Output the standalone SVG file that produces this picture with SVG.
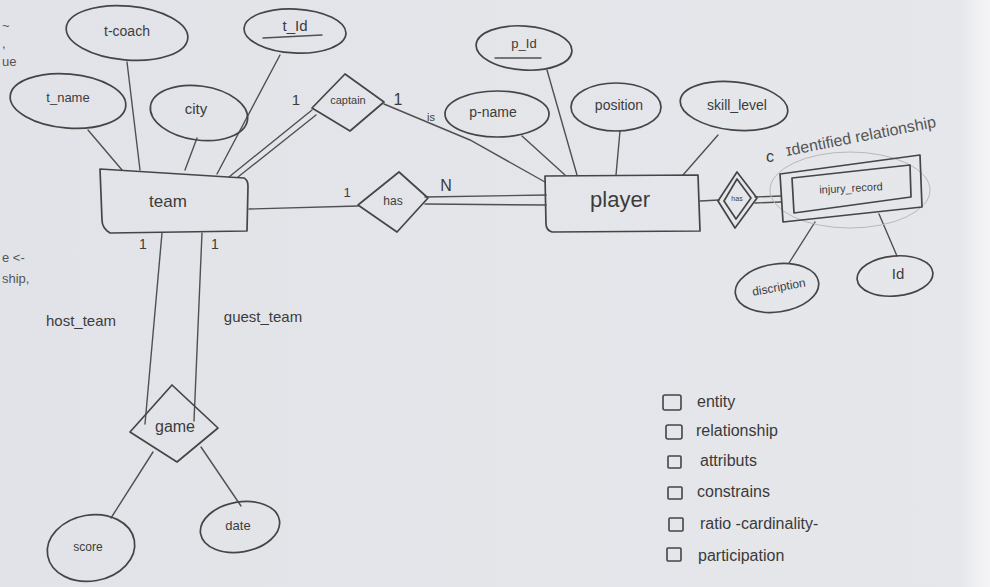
<svg xmlns="http://www.w3.org/2000/svg" width="990" height="587" viewBox="0 0 990 587">
<defs>
<linearGradient id="paper" x1="0" y1="0" x2="1" y2="0">
<stop offset="0" stop-color="#e2e3e8"/>
<stop offset="0.97" stop-color="#e6e7eb"/>
<stop offset="0.985" stop-color="#eeeff2"/>
<stop offset="1" stop-color="#f4f4f6"/>
</linearGradient>
</defs>
<style>
.s{fill:none;stroke:#454545;stroke-width:1.7;stroke-linejoin:round;stroke-linecap:round}
.l{fill:none;stroke:#505050;stroke-width:1.4;stroke-linecap:round}
.t{font-family:"Liberation Sans",Arial,sans-serif;fill:#3c3c3c;text-anchor:middle;dominant-baseline:middle}
.f{font-family:"Liberation Sans",Arial,sans-serif;fill:#555;font-size:13px}
.lg{font-family:"Liberation Sans",Arial,sans-serif;fill:#3a3a3a;font-size:16px}
.lb{fill:none;stroke:#444;stroke-width:1.6}
</style>
<rect x="0" y="0" width="990" height="587" fill="url(#paper)"/>

<!-- edge fragments -->
<g id="fragments">
<text class="f" x="2" y="30">~</text>
<text class="f" x="2" y="48">,</text>
<text class="f" x="2" y="66">ue</text>
<text class="f" x="2" y="262">e &lt;-</text>
<text class="f" x="2" y="283">ship,</text>
</g>

<g id="connectors">
<!-- team attributes -->
<line class="l" x1="88" y1="130" x2="122" y2="170"/>
<line class="l" x1="127" y1="62" x2="140" y2="170"/>
<line class="l" x1="197" y1="138" x2="185" y2="170"/>
<line class="l" x1="280" y1="55" x2="217" y2="174"/>
<!-- team - captain double -->
<line class="l" x1="229" y1="177" x2="312" y2="110"/>
<line class="l" x1="238" y1="177" x2="316" y2="115"/>
<!-- captain - player -->
<polyline class="l" points="384,104 470,140 545,182"/>
<!-- team - has -->
<line class="l" x1="249" y1="209" x2="358" y2="206"/>
<!-- has - player double -->
<line class="l" x1="425" y1="197" x2="546" y2="195"/>
<line class="l" x1="425" y1="204" x2="546" y2="205"/>
<!-- player attributes -->
<line class="l" x1="547" y1="70" x2="577" y2="175"/>
<line class="l" x1="522" y1="136" x2="565" y2="175"/>
<line class="l" x1="620" y1="131" x2="616" y2="175"/>
<line class="l" x1="718" y1="135" x2="683" y2="175"/>
<!-- player - weak has -->
<line class="l" x1="700" y1="201" x2="719" y2="200"/>
<line class="l" x1="755" y1="197" x2="781" y2="196"/>
<line class="l" x1="755" y1="203" x2="781" y2="202"/>
<!-- injury attributes -->
<line class="l" x1="815" y1="222" x2="789" y2="263"/>
<line class="l" x1="879" y1="214" x2="897" y2="256"/>
<!-- team - game -->
<line class="l" x1="162" y1="233" x2="145" y2="424"/>
<line class="l" x1="202" y1="233" x2="194" y2="421"/>
<!-- game attributes -->
<line class="l" x1="153" y1="452" x2="111" y2="518"/>
<line class="l" x1="201" y1="447" x2="241" y2="506"/>
<!-- cardinalities & role labels -->
<text class="t" x="296" y="101" font-size="15">1</text>
<text class="t" x="398" y="101" font-size="16">1</text>
<text class="t" x="431" y="118" font-size="11" fill="#666">is</text>
<text class="t" x="347" y="194" font-size="13">1</text>
<text class="t" x="446" y="187" font-size="16">N</text>
<text class="t" x="143" y="245" font-size="14">1</text>
<text class="t" x="215" y="245" font-size="14">1</text>
<text class="t" x="81" y="322" font-size="15" fill="#555">host_team</text>
<text class="t" x="263" y="318" font-size="15" fill="#555">guest_team</text>
</g>

<g id="t_coach">
<ellipse class="s" cx="127" cy="33" rx="61" ry="27" transform="rotate(5 127 33)"/>
<text class="t" x="127" y="32" font-size="14">t-coach</text>
</g>
<g id="t_Id">
<ellipse class="s" cx="295" cy="31" rx="51" ry="22" transform="rotate(3 295 31)"/>
<text class="t" x="295" y="27" font-size="15">t_Id</text>
<line class="l" x1="263" y1="38" x2="322" y2="35"/>
</g>
<g id="t_name">
<ellipse class="s" cx="68" cy="101" rx="58" ry="27" transform="rotate(5 68 101)"/>
<text class="t" x="68" y="99" font-size="13">t_name</text>
</g>
<g id="city">
<ellipse class="s" cx="199" cy="113" rx="49" ry="27" transform="rotate(8 199 113)"/>
<text class="t" x="196" y="110" font-size="15" fill="#777">city</text>
</g>
<g id="team">
<path class="s" d="M100,169 L244,178 Q248,180 248,186 L247,231 L110,233 Q102,228 102,220 Z"/>
<text class="t" x="168" y="203" font-size="17">team</text>
</g>
<g id="captain">
<polygon class="s" points="345,74 384,102 350,131 312,108"/>
<text class="t" x="348" y="101" font-size="11">captain</text>
</g>
<g id="has">
<polygon class="s" points="399,172 428,198 397,232 358,205"/>
<text class="t" x="393" y="202" font-size="12" fill="#666">has</text>
</g>
<g id="player">
<path class="s" d="M545,176 L698,175 L700,231 L552,232 Q546,230 546,224 Z"/>
<text class="t" x="620" y="201" font-size="22">player</text>
</g>
<g id="p_Id">
<ellipse class="s" cx="524" cy="48" rx="48" ry="22" transform="rotate(4 524 48)"/>
<text class="t" x="524" y="45" font-size="13">p_Id</text>
<line class="l" x1="495" y1="58" x2="541" y2="58"/>
</g>
<g id="p_name">
<ellipse class="s" cx="497" cy="114" rx="52" ry="23"/>
<text class="t" x="493" y="113" font-size="14">p-name</text>
</g>
<g id="position">
<ellipse class="s" cx="616" cy="107" rx="45" ry="24"/>
<text class="t" x="619" y="106" font-size="14">position</text>
</g>
<g id="skill_level">
<ellipse class="s" cx="734" cy="106" rx="54" ry="24" transform="rotate(6 734 106)"/>
<text class="t" x="737" y="106" font-size="14">skill_level</text>
</g>
<g id="has_weak">
<polygon class="s" points="737,172 757,198 735,228 718,201"/>
<polygon class="s" points="737,179 751,198 736,219 724,201"/>
<text class="t" x="737" y="199" font-size="7">has</text>
</g>
<g id="injury_record">
<ellipse cx="850" cy="190" rx="80" ry="38" fill="none" stroke="#b8b8bc" stroke-width="1"/>
<polygon class="s" points="780,174 920,155 922,207 783,222"/>
<polygon class="s" points="792,178 910,165 911,197 794,213"/>
<text class="t" x="851" y="189" font-size="11" fill="#555" transform="rotate(-3 851 189)">injury_record</text>
</g>
<g id="identified_note">
<text class="t" x="770" y="158" font-size="16" fill="#666">c</text>
<text x="787" y="156" font-family="Liberation Sans,Arial,sans-serif" font-size="16" fill="#555" transform="rotate(-11 787 156)">ɪdentified relationship</text>
</g>
<g id="discription">
<ellipse class="s" cx="777" cy="288" rx="42" ry="24" transform="rotate(-8 777 288)"/>
<text class="t" x="779" y="288" font-size="12" transform="rotate(-10 779 288)">discription</text>
</g>
<g id="Id">
<ellipse class="s" cx="895" cy="276" rx="38" ry="20" transform="rotate(-5 895 276)"/>
<text class="t" x="898" y="275" font-size="15">Id</text>
</g>
<g id="game">
<polygon class="s" points="172,385 218,428 177,462 130,432"/>
<text class="t" x="175" y="428" font-size="16">game</text>
</g>
<g id="score">
<ellipse class="s" cx="91" cy="548" rx="44" ry="33" transform="rotate(-10 91 548)"/>
<text class="t" x="88" y="548" font-size="12" fill="#555">score</text>
</g>
<g id="date">
<ellipse class="s" cx="240" cy="527" rx="40" ry="25" transform="rotate(-10 240 527)"/>
<text class="t" x="238" y="527" font-size="13" fill="#666">date</text>
</g>

<g id="legend">
<rect class="lb" x="663" y="395" width="18" height="15" rx="2"/>
<text class="lg" x="697" y="407">entity</text>
<rect class="lb" x="666" y="425" width="16" height="14" rx="2"/>
<text class="lg" x="696" y="436">relationship</text>
<rect class="lb" x="668" y="456" width="13" height="12" rx="1"/>
<text class="lg" x="700" y="466">attributs</text>
<rect class="lb" x="668" y="487" width="14" height="12" rx="1"/>
<text class="lg" x="697" y="497">constrains</text>
<rect class="lb" x="669" y="518" width="14" height="13" rx="1"/>
<text class="lg" x="700" y="529">ratio -cardinality-</text>
<rect class="lb" x="667" y="548" width="14" height="13" rx="1"/>
<text class="lg" x="698" y="561">participation</text>
</g>
</svg>
